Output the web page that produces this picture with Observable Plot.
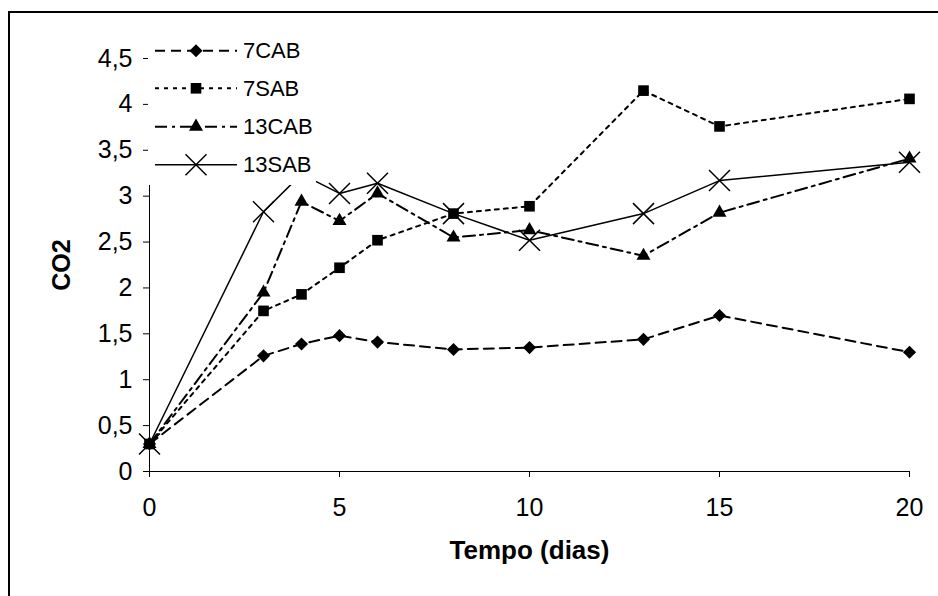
<!DOCTYPE html>
<html><head><meta charset="utf-8">
<script src="https://cdn.jsdelivr.net/npm/d3@7"></script>
<script src="https://cdn.jsdelivr.net/npm/@observablehq/plot@0.6"></script>
<style>
html,body{margin:0;padding:0;background:#fff;overflow:hidden}
#wrap{position:relative;width:938px;height:596px;font-family:"Liberation Sans",Arial,sans-serif}
#frame{position:absolute;left:8px;top:11px;width:940px;height:600px;border-left:2px solid #000;border-top:2px solid #000;pointer-events:none}
#legend{position:absolute;left:0;top:0;pointer-events:none}
g[aria-label="x-axis label"] text{font-weight:bold;font-size:26px}
g[aria-label="y-axis label"] text{font-weight:bold;font-size:25px}
</style></head><body><div id="wrap"></div>
<script>
const days = [0, 3, 4, 5, 6, 8, 10, 13, 15, 20];
const seriesNames = ["7CAB", "7SAB", "13CAB", "13SAB"];
const v7CAB  = [0.30, 1.26, 1.39, 1.48, 1.41, 1.33, 1.35, 1.44, 1.70, 1.30];
const v7SAB  = [0.30, 1.75, 1.93, 2.22, 2.52, 2.81, 2.89, 4.15, 3.76, 4.06];
const v13CAB = [0.30, 1.95, 2.94, 2.73, 3.03, 2.55, 2.63, 2.35, 2.82, 3.41];
const v13SAB = [0.30, 2.83, 3.24, 3.03, 3.14, 2.81, 2.52, 2.81, 3.17, 3.37];
const xTicks = [0, 5, 10, 15, 20];
const yTicks = [0, 0.5, 1, 1.5, 2, 2.5, 3, 3.5, 4, 4.5];
const xLabel = "Tempo (dias)";
const yLabel = "CO2";

const valuesBySeries = {"7CAB": v7CAB, "7SAB": v7SAB, "13CAB": v13CAB, "13SAB": v13SAB};
const styles = {
  "7CAB":  {dash: "10,6", width: 2, symbol: "diamond2", r: 5.9, filled: true},
  "7SAB":  {dash: "4,5", width: 2, symbol: "square", r: 6.0, filled: true},
  "13CAB": {dash: "12,5,3,5", width: 2, symbol: "triangle", r: 5.2, filled: true},
  "13SAB": {dash: null, width: 1.5, symbol: "times", r: 9.6, filled: false}
};
const data = seriesNames.flatMap(s => days.map((d, i) => ({series: s, day: d, value: valuesBySeries[s][i]})));
const fmt = d => String(d).replace(".", ",");

const marks = [
  Plot.ruleY([0], {stroke: "black", strokeWidth: 1}),
  Plot.ruleX([0], {stroke: "black", strokeWidth: 1}),
  Plot.axisX({ticks: xTicks, tickSize: 6, tickPadding: 21, tickFormat: fmt, fontSize: 25,
    label: xLabel, labelAnchor: "center", labelOffset: 87, labelArrow: "none"}),
  Plot.axisY({ticks: yTicks, tickSize: 6, tickPadding: 11, tickFormat: fmt, fontSize: 25,
    label: yLabel, labelAnchor: "center", labelOffset: 97, labelArrow: "none"})
];
for (const s of seriesNames) {
  const st = styles[s];
  const rows = data.filter(d => d.series === s);
  marks.push(Plot.line(rows, {x: "day", y: "value", stroke: "black", strokeWidth: st.width,
    strokeDasharray: st.dash || undefined}));
}
for (const s of seriesNames) {
  const st = styles[s];
  const rows = data.filter(d => d.series === s);
  marks.push(Plot.dot(rows, st.filled
    ? {x: "day", y: "value", symbol: st.symbol, r: st.r, fill: "black", stroke: "none"}
    : {x: "day", y: "value", symbol: st.symbol, r: st.r, fill: "none", stroke: "black", strokeWidth: 1.5}));
}

const chart = Plot.plot({
  width: 938, height: 596,
  marginLeft: 149, marginRight: 29, marginTop: 58, marginBottom: 125,
  x: {domain: [0, 20]},
  y: {domain: [0, 4.5]},
  style: {fontFamily: "'Liberation Sans', Arial, sans-serif", fontSize: "25px", color: "black", background: "white"},
  marks
});
const wrap = document.getElementById("wrap");
wrap.appendChild(chart);

// legend (HTML overlay drawn with d3)
const symMap = {diamond2: d3.symbolDiamond2, square: d3.symbolSquare, triangle: d3.symbolTriangle, times: d3.symbolTimes};
const lg = d3.select(wrap).append("svg").attr("id", "legend").attr("width", 938).attr("height", 596);
lg.append("rect").attr("x", 148).attr("y", 35).attr("width", 168).attr("height", 150).attr("fill", "white");
const rowY = [50.7, 88.3, 126.7, 164.7];
seriesNames.forEach((s, i) => {
  const st = styles[s];
  const g = lg.append("g").attr("transform", `translate(0,${rowY[i]})`);
  g.append("line").attr("x1", 155).attr("x2", 237).attr("y1", 0).attr("y2", 0)
    .attr("stroke", "black").attr("stroke-width", st.width)
    .attr("stroke-dasharray", st.dash || null);
  const path = d3.symbol().type(symMap[st.symbol]).size(Math.PI * st.r * st.r)();
  g.append("path").attr("d", path).attr("transform", "translate(196,0)")
    .attr("fill", st.filled ? "black" : "none").attr("stroke", st.filled ? "none" : "black")
    .attr("stroke-width", 1.5);
  g.append("text").attr("x", 243).attr("y", 7.5).attr("font-size", 22)
    .attr("font-family", "'Liberation Sans', Arial, sans-serif").attr("fill", "black").text(s);
});

d3.select(wrap).append("div").attr("id", "frame");
</script>
</body></html>
